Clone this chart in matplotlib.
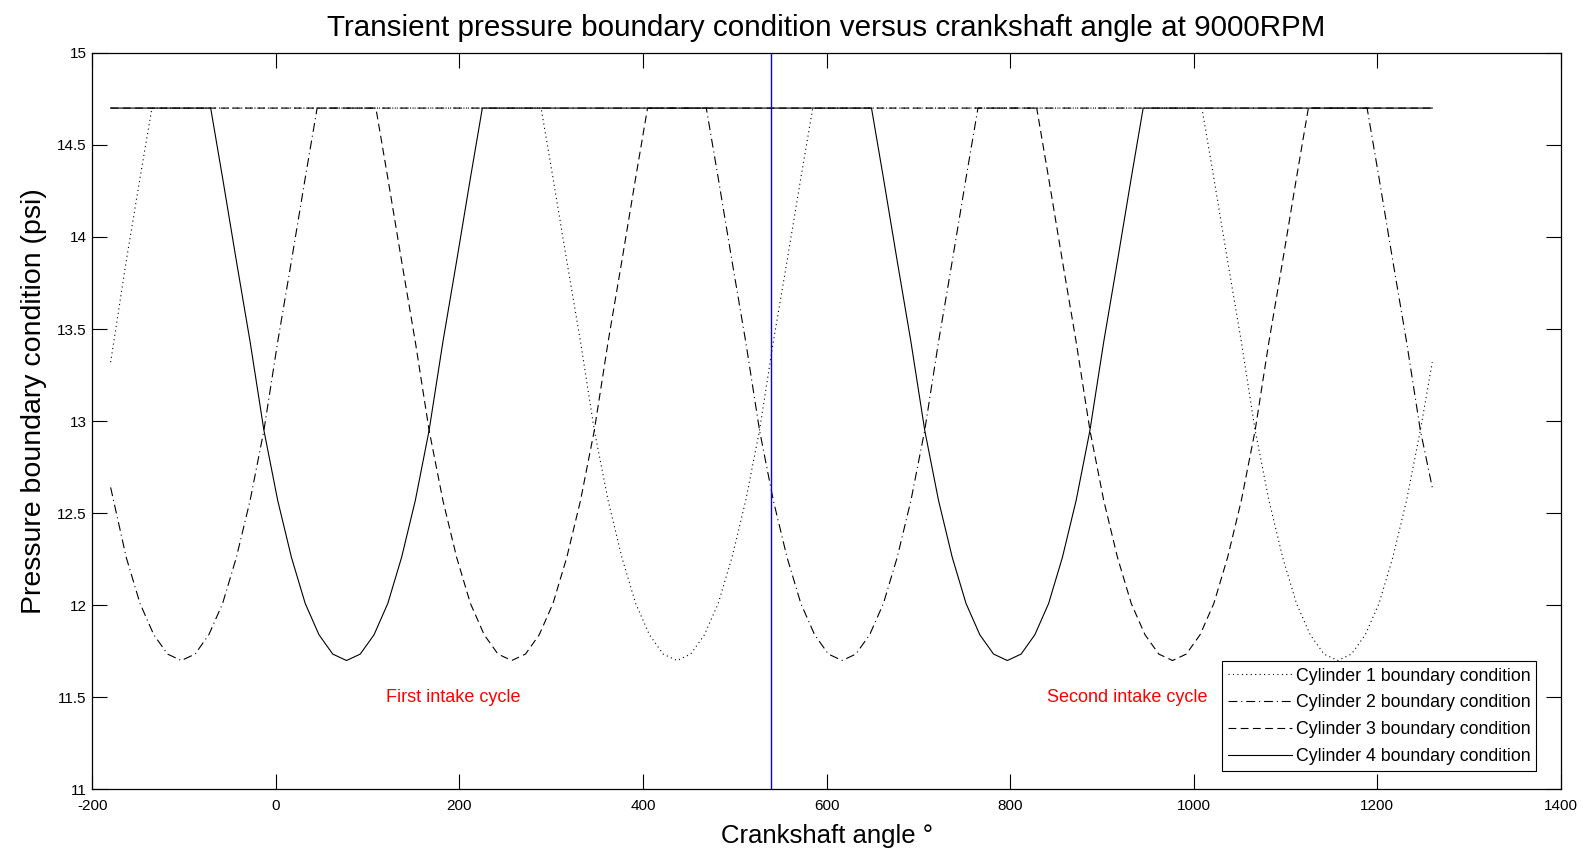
import matplotlib
matplotlib.use('Agg')
import matplotlib.pyplot as plt

plt.rcParams['font.family'] = ['Liberation Sans', 'DejaVu Sans']
plt.rcParams['axes.unicode_minus'] = False

# pressure, one dip per valve opening
dip_psi = [14.70, 14.32, 13.87, 13.43, 12.95, 12.57, 12.26, 12.01, 11.84, 11.735, 11.70,
           11.735, 11.84, 12.01, 12.26, 12.57, 12.95, 13.43, 13.87, 14.32, 14.70]

cyl1_deg = [-180, -163, -148, -135,
            289, 302, 317, 332, 347, 362, 377, 392, 407, 422, 437,
            452, 467, 482, 497, 512, 527, 542, 557, 572, 585,
            1009, 1022, 1037, 1052, 1067, 1082, 1097, 1112, 1127, 1142, 1157,
            1172, 1187, 1202, 1217, 1232, 1247, 1260]
cyl1_psi = [13.32, 13.87, 14.32, 14.70] + dip_psi + dip_psi[:17] + [13.32]

cyl2_deg = [-180, -163, -148, -133, -118, -103,
            -88, -73, -58, -43, -28, -13, 2, 17, 32, 45,
            469, 482, 497, 512, 527, 542, 557, 572, 587, 602, 617,
            632, 647, 662, 677, 692, 707, 722, 737, 752, 765,
            1189, 1202, 1217, 1232, 1247, 1260]
cyl2_psi = [12.64] + dip_psi[6:] + dip_psi + dip_psi[:5] + [12.64]

cyl3_deg = [-180,
            109, 122, 137, 152, 167, 182, 197, 212, 227, 242, 257,
            272, 287, 302, 317, 332, 347, 362, 377, 392, 405,
            829, 842, 857, 872, 887, 902, 917, 932, 947, 962, 977,
            992, 1007, 1022, 1037, 1052, 1067, 1082, 1097, 1112, 1125,
            1260]
cyl3_psi = [14.70] + dip_psi + dip_psi + [14.70]

cyl4_deg = [-180,
            -71, -58, -43, -28, -13, 2, 17, 32, 47, 62, 77,
            92, 107, 122, 137, 152, 167, 182, 197, 212, 225,
            649, 662, 677, 692, 707, 722, 737, 752, 767, 782, 797,
            812, 827, 842, 857, 872, 887, 902, 917, 932, 945,
            1260]
cyl4_psi = [14.70] + dip_psi + dip_psi + [14.70]

cycle_split = 540
notes = [(120, 11.5, 'First intake cycle'), (840, 11.5, 'Second intake cycle')]

fig = plt.figure(figsize=(15.91, 8.55), dpi=100)
ax = fig.add_axes([0.058, 0.0767, 0.923, 0.8615])

lw = 0.8
ax.plot(cyl1_deg, cyl1_psi, 'k', ls=(0, (1, 3)), lw=lw, label='Cylinder 1 boundary condition')
ax.plot(cyl2_deg, cyl2_psi, 'k', ls=(0, (8, 3.5, 1, 3.5)), lw=lw, label='Cylinder 2 boundary condition')
ax.plot(cyl3_deg, cyl3_psi, 'k', ls=(0, (7, 4)), lw=lw, label='Cylinder 3 boundary condition')
ax.plot(cyl4_deg, cyl4_psi, 'k', ls='-', lw=lw, label='Cylinder 4 boundary condition')
ax.axvline(cycle_split, color='#0000ff', lw=1)

for x, y, s in notes:
    ax.text(x, y, s, color='red', fontsize=13, va='center')

ax.set_xlim(-200, 1400)
ax.set_ylim(11, 15)
ax.set_xticks(range(-200, 1401, 200))
ax.set_yticks([11, 11.5, 12, 12.5, 13, 13.5, 14, 14.5, 15])
ax.set_yticklabels(['11', '11.5', '12', '12.5', '13', '13.5', '14', '14.5', '15'])
ax.tick_params(direction='in', length=10.5, width=0.8, top=True, right=True,
               labelsize=11, pad=4)
ax.tick_params(axis='x', pad=7)
for s in ax.spines.values():
    s.set_linewidth(0.9)

ax.set_title('Transient pressure boundary condition versus crankshaft angle at 9000RPM',
             fontsize=21.3, pad=12)
ax.set_xlabel('Crankshaft angle \u00b0', fontsize=18.5, labelpad=8)
ax.set_ylabel('Pressure boundary condition (psi)', fontsize=20.5, labelpad=7)
ax.yaxis.label.set_y(0.527)

leg = ax.legend(loc='lower right', fontsize=12.8, handlelength=3.6, handletextpad=0.2,
                labelspacing=0.55, borderpad=0.35, borderaxespad=0, fancybox=False,
                framealpha=1, edgecolor='black', bbox_to_anchor=(0.9834, 0.0248))
leg.get_frame().set_linewidth(0.8)

fig.savefig('out.png', dpi=100)
